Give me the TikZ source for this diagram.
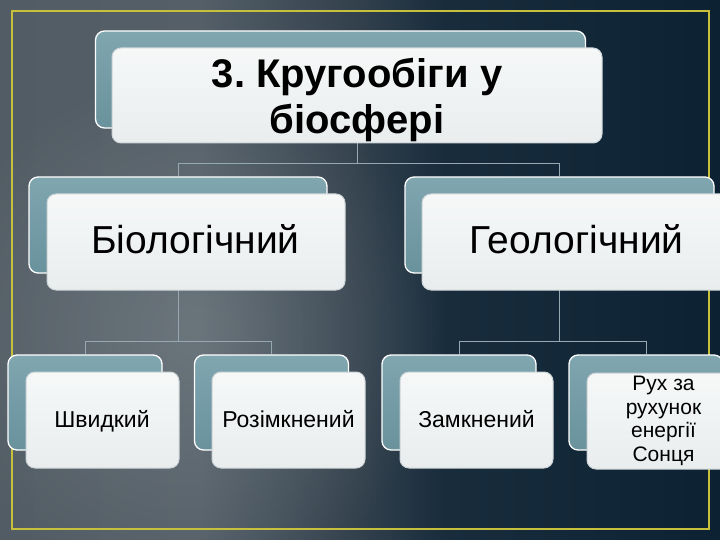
\documentclass[tikz,border=0pt]{standalone}
\usepackage{fontspec}
\setmainfont{Liberation Sans}
\usetikzlibrary{fadings}
\tikzfading[name=spotfade, inner color=transparent!0, outer color=transparent!100]
\pgfdeclarelayer{bgl}
\pgfsetlayers{bgl,main}
\definecolor{g0}{RGB}{82,92,100}
\definecolor{g1}{RGB}{84,95,104}
\definecolor{g2}{RGB}{50,64,76}
\definecolor{g3}{RGB}{24,44,60}
\definecolor{g4}{RGB}{12,34,50}
\definecolor{spotC}{RGB}{150,158,162}
\definecolor{borderC}{RGB}{198,192,60}
\definecolor{backT}{RGB}{128,166,176}
\definecolor{backB}{RGB}{105,146,156}
\definecolor{frontT}{RGB}{246,248,248}
\definecolor{frontB}{RGB}{233,237,238}
\definecolor{frontE}{RGB}{205,212,215}
\definecolor{connC}{RGB}{150,168,178}
\pgfdeclarehorizontalshading{bgshade}{100bp}{color(0bp)=(g0); color(25bp)=(g0); color(38.9bp)=(g1); color(50bp)=(g2); color(56bp)=(g3); color(75bp)=(g4); color(100bp)=(g4)}
\begin{document}
\frenchspacing
\begin{tikzpicture}[x=1pt,y=-1pt,
  backbox/.style={draw=white, line width=1.3pt, rounded corners=9pt, top color=backT, bottom color=backB, inner sep=0pt},
  frontbox/.style={draw=frontE, line width=1pt, rounded corners=9pt, top color=frontT, bottom color=frontB, inner sep=2pt, align=center, text=black},
  bigtext/.style={font=\fontsize{39}{42}\selectfont, anchor=base, inner sep=0pt, text=black},
  smalltext/.style={font=\fontsize{23}{26}\selectfont, anchor=base, inner sep=0pt, text=black},
  conn/.style={draw=connC, line width=0.9pt}]
\useasboundingbox (0,0) rectangle (720,540);
\begin{pgfonlayer}{bgl}
  \shade[shading=bgshade] (0,0) rectangle (720,540);
  \fill[spotC, path fading=spotfade, opacity=.35] (190,330) circle (260);
  \draw[borderC, line width=2pt] (12,11) rectangle (709,529);
\end{pgfonlayer}
% top
\node[backbox, minimum width=490pt, minimum height=97pt] (tb) at (340.5,79.5) {};
\node[frontbox, minimum width=490pt, minimum height=95pt, text depth=0pt, font=\bfseries\fontsize{40}{46}\selectfont] (tf) at (357,95.5) {3. Кругообіги у\\біосфері};
% level 2
\node[backbox, minimum width=298pt, minimum height=96pt] (b1b) at (178,225) {};
\node[frontbox, minimum width=298pt, minimum height=96pt] (b1f) at (196,242) {};
\node[bigtext] (b1t) at (195.5,253.3) {Біологічний};
\node[backbox, minimum width=309pt, minimum height=96pt] (b2b) at (559.5,225) {};
\node[frontbox, minimum width=309pt, minimum height=96pt] (b2f) at (576.5,242) {};
\node[bigtext] (b2t) at (576.5,253.3) {Геологічний};
% level 3
\node[backbox, minimum width=154pt, minimum height=95pt] (l1b) at (85,402.5) {};
\node[frontbox, minimum width=153pt, minimum height=96pt] (l1f) at (102.5,420) {};
\node[smalltext] (l1t) at (102,427) {Швидкий};
\node[backbox, minimum width=154pt, minimum height=95pt] (l2b) at (271.5,402.5) {};
\node[frontbox, minimum width=153pt, minimum height=96pt] (l2f) at (288.5,420) {};
\node[smalltext] (l2t) at (288.5,427) {Розімкнений};
\node[backbox, minimum width=154pt, minimum height=95pt] (l3b) at (459,402.5) {};
\node[frontbox, minimum width=153pt, minimum height=96pt] (l3f) at (476.5,420) {};
\node[smalltext] (l3t) at (476.5,427) {Замкнений};
\node[backbox, minimum width=154pt, minimum height=95pt] (l4b) at (646,402.5) {};
\node[frontbox, minimum width=153pt, minimum height=96pt, font=\fontsize{21}{23.7}\selectfont] (l4f) at (663.5,421) {Рух за\\рухунок\\енергії\\Сонця};
% connectors
\begin{pgfonlayer}{bgl}
  \draw[conn] (tf.south) -- ++(0,20) coordinate (j0);
  \draw[conn] (b1b.north) |- (j0) -| (b2b.north);
  \draw[conn] (b1b.south) -- ++(0,68) coordinate (j1);
  \draw[conn] (l1b.north) |- (j1) -| (l2b.north);
  \draw[conn] (b2b.south) -- ++(0,68) coordinate (j2);
  \draw[conn] (l3b.north) |- (j2) -| (l4b.north);
\end{pgfonlayer}
\end{tikzpicture}
\end{document}
